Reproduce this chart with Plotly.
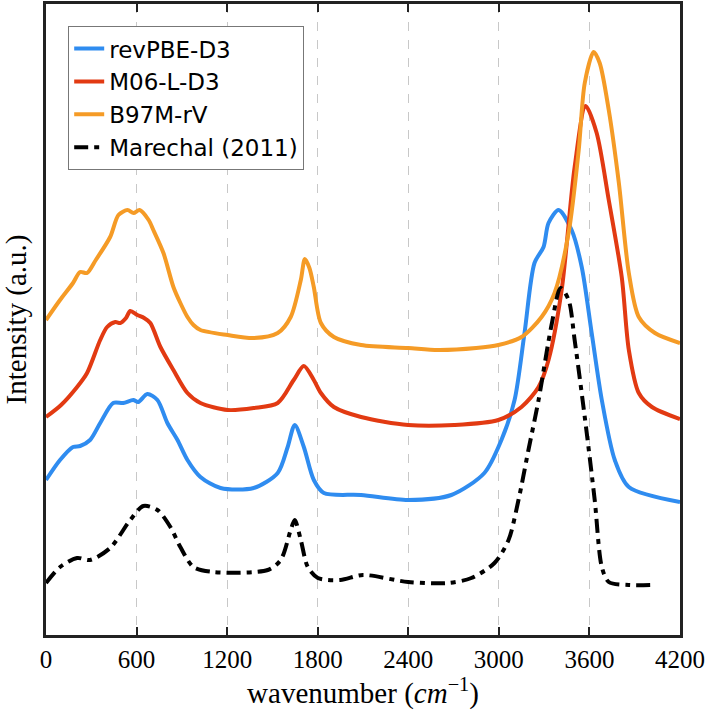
import plotly.graph_objects as go

# wavenumber (cm^-1) and intensity (a.u., offset spectra)
rev_x = [0, 93, 179, 226, 292, 359, 445, 512, 578, 611, 671, 738, 804, 871, 937, 1023, 1156, 1376, 1535, 1601, 1648, 1708, 1774, 1841, 2087, 2399, 2685, 2904, 3017, 3104, 3170, 3236, 3296, 3329, 3396, 3482, 3549, 3615, 3682, 3768, 3861, 4200]
rev_y = [1.55, 1.75, 1.88, 1.89, 1.95, 2.12, 2.32, 2.32, 2.35, 2.33, 2.41, 2.35, 2.12, 1.95, 1.75, 1.58, 1.47, 1.47, 1.62, 1.88, 2.10, 1.88, 1.55, 1.42, 1.40, 1.35, 1.40, 1.62, 1.95, 2.35, 3.02, 3.72, 3.88, 4.12, 4.25, 4.05, 3.68, 3.02, 2.35, 1.75, 1.48, 1.33]

m06_x = [0, 100, 206, 272, 359, 405, 459, 492, 530, 558, 605, 650, 691, 758, 844, 937, 1023, 1203, 1376, 1535, 1641, 1708, 1774, 1821, 1907, 2087, 2399, 2705, 2997, 3150, 3263, 3329, 3416, 3502, 3575, 3648, 3728, 3814, 3861, 3927, 4014, 4200]
m06_y = [2.18, 2.30, 2.48, 2.62, 2.95, 3.08, 3.13, 3.12, 3.17, 3.24, 3.20, 3.17, 3.12, 2.88, 2.65, 2.42, 2.32, 2.25, 2.27, 2.32, 2.55, 2.69, 2.55, 2.42, 2.28, 2.18, 2.10, 2.10, 2.15, 2.28, 2.48, 2.75, 3.45, 4.68, 5.29, 5.02, 4.35, 3.58, 2.85, 2.42, 2.28, 2.16]

b97_x = [0, 93, 179, 226, 272, 330, 425, 480, 540, 580, 620, 680, 711, 778, 844, 890, 937, 977, 1023, 1203, 1376, 1535, 1621, 1688, 1715, 1745, 1774, 1821, 1907, 2087, 2399, 2598, 2850, 2997, 3150, 3283, 3369, 3462, 3529, 3569, 3628, 3668, 3728, 3795, 3861, 3927, 4034, 4200]
b97_y = [3.15, 3.35, 3.52, 3.63, 3.62, 3.75, 3.98, 4.20, 4.25, 4.22, 4.25, 4.15, 4.05, 3.82, 3.48, 3.32, 3.18, 3.10, 3.05, 3.00, 2.97, 3.02, 3.18, 3.55, 3.76, 3.67, 3.48, 3.12, 2.98, 2.90, 2.87, 2.85, 2.87, 2.90, 2.98, 3.18, 3.42, 4.02, 4.85, 5.52, 5.83, 5.72, 5.25, 4.52, 3.62, 3.18, 3.02, 2.92]

exp_x = [0, 93, 206, 292, 425, 558, 645, 738, 824, 890, 977, 1110, 1469, 1555, 1621, 1648, 1688, 1734, 1801, 1950, 2100, 2399, 2665, 2818, 2971, 3064, 3130, 3196, 3263, 3349, 3409, 3462, 3502, 3569, 3635, 3682, 3728, 3861, 4014]
exp_y = [0.52, 0.68, 0.77, 0.75, 0.87, 1.15, 1.29, 1.25, 1.08, 0.88, 0.68, 0.63, 0.65, 0.75, 1.05, 1.15, 0.95, 0.68, 0.57, 0.55, 0.60, 0.53, 0.52, 0.57, 0.72, 0.95, 1.35, 1.85, 2.35, 3.10, 3.47, 3.35, 2.95, 2.18, 1.35, 0.68, 0.53, 0.50, 0.50]

x_ticks = [0, 600, 1200, 1800, 2400, 3000, 3600, 4200]

series = [
    ("revPBE-D3", rev_x, rev_y, "#2F8CF0", "solid"),
    ("M06-L-D3", m06_x, m06_y, "#E23A12", "solid"),
    ("B97M-rV", b97_x, b97_y, "#F59B26", "solid"),
    ("Marechal (2011)", exp_x, exp_y, "#000000", "14px,6px,5px,6px"),
]

fig = go.Figure()
for name, xs, ys, col, dash in series:
    fig.add_trace(go.Scatter(x=xs, y=ys, name=name, mode="lines",
                             line=dict(color=col, width=4, dash=dash, shape="spline", smoothing=0.8)))

fig.update_layout(
    width=708, height=717,
    margin=dict(l=46, r=28, t=4, b=82),
    plot_bgcolor="white", paper_bgcolor="white",
    showlegend=True,
    legend=dict(x=0.035, y=0.965, xanchor="left", yanchor="top",
                bgcolor="white", bordercolor="#777777", borderwidth=1,
                font=dict(family="DejaVu Sans, Arial", size=23, color="black"),
                itemwidth=30, tracegroupgap=0),
    font=dict(family="Liberation Serif, Times New Roman, serif", color="black"),
)
fig.update_xaxes(range=[0, 4200], tickvals=x_ticks, ticktext=[str(t) for t in x_ticks],
                 ticks="inside", ticklen=8, tickwidth=2, tickcolor="#222222",
                 showline=True, linecolor="#222222", linewidth=3, mirror="ticks",
                 showgrid=True, gridcolor="#c8c8c8", griddash="dash", gridwidth=1,
                 zeroline=False, tickfont=dict(size=25), automargin=False,
                 title=dict(text="wavenumber (<i>cm</i><sup>−1</sup>)", font=dict(size=29), standoff=4))
fig.update_yaxes(range=[0, 6.31], showticklabels=False, ticks="",
                 showline=True, linecolor="#222222", linewidth=3, mirror=True,
                 showgrid=False, zeroline=False, automargin=False,
                 title=dict(text="Intensity (a.u.)", font=dict(size=29), standoff=12))

fig.write_html("out.html", config={"displayModeBar": False},
               post_script="document.body.style.margin='0px';")
